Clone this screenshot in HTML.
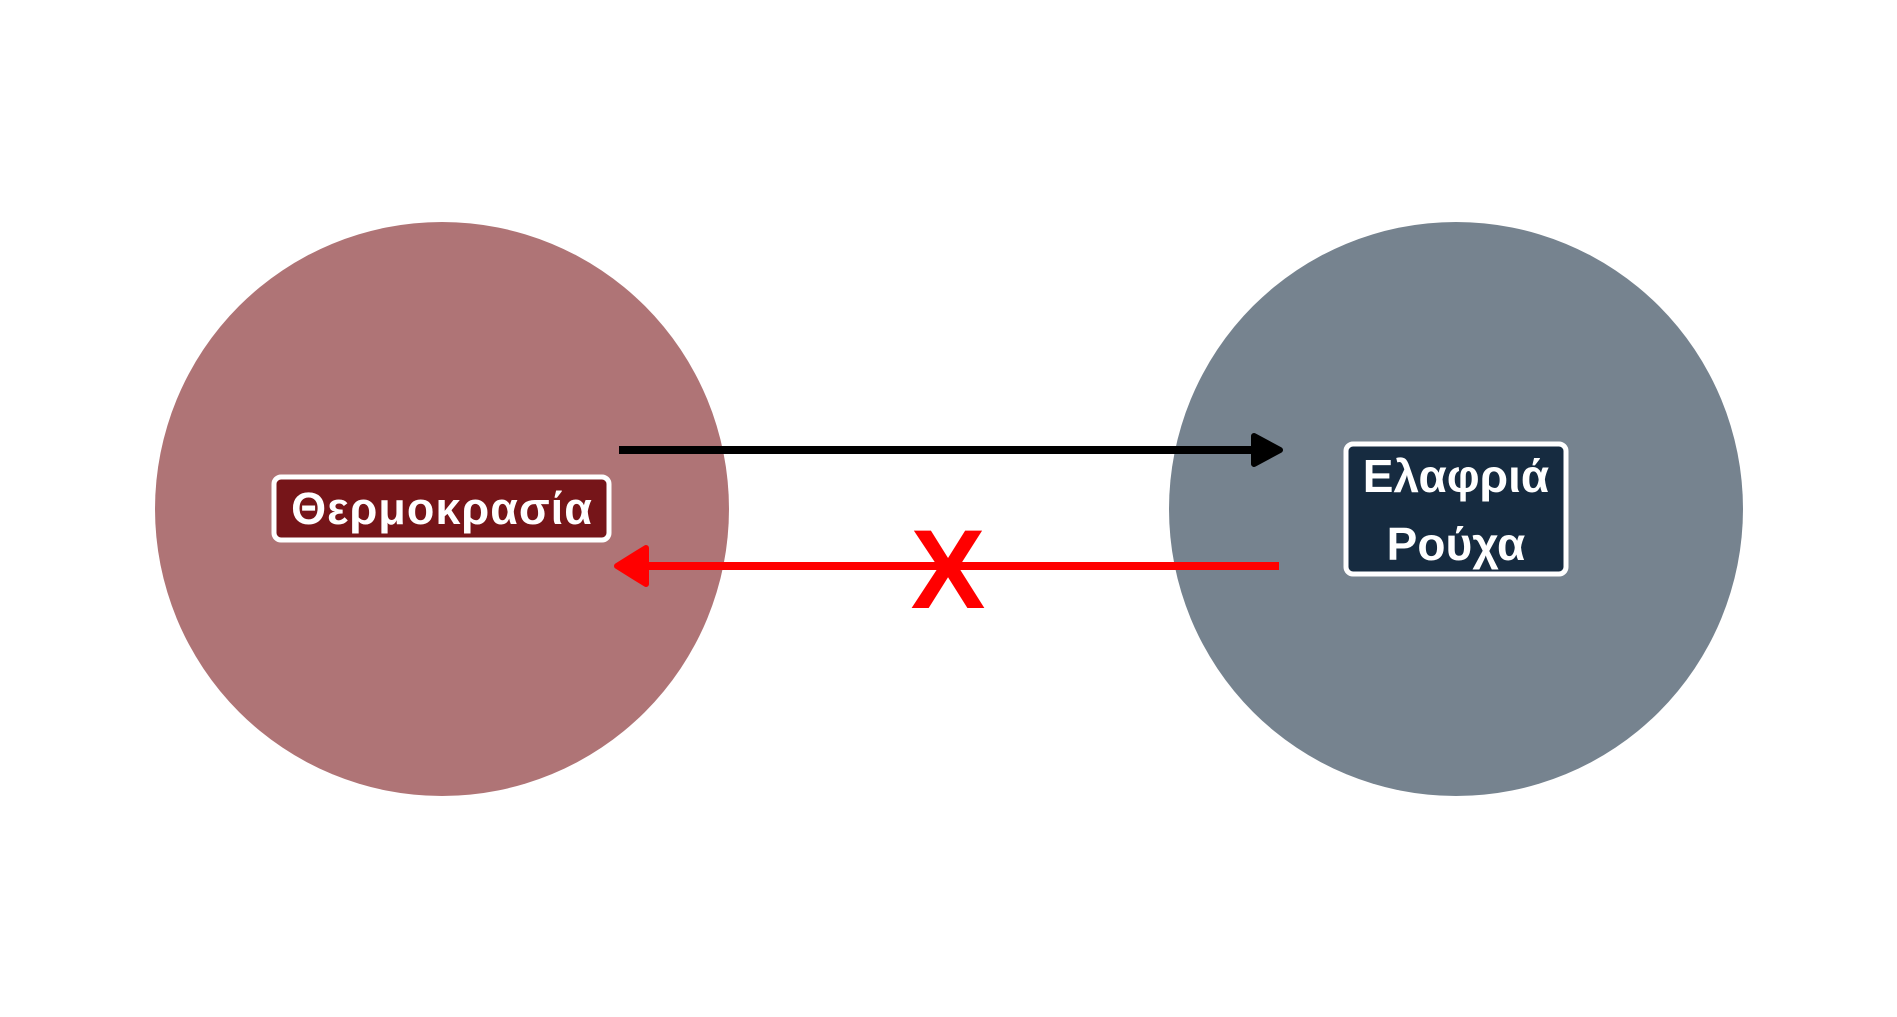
<!DOCTYPE html>
<html><head><meta charset="utf-8"><style>
html,body{margin:0;padding:0;background:#fff;width:1897px;height:1017px;overflow:hidden}
</style></head><body>
<svg width="1897" height="1017" viewBox="0 0 1897 1017" xmlns="http://www.w3.org/2000/svg">
<circle cx="442" cy="509" r="287" fill="#AF7476"/>
<circle cx="1456" cy="509" r="287" fill="#76838F"/>
<line x1="619" y1="450" x2="1260" y2="450" stroke="#000" stroke-width="8"/>
<path d="M1254 436 L1280 450 L1254 464 Z" fill="#000" stroke="#000" stroke-width="6" stroke-linejoin="round"/>
<line x1="640" y1="566" x2="1279" y2="566" stroke="#f00" stroke-width="8"/>
<path d="M646 548 L617 566 L646 584 Z" fill="#f00" stroke="#f00" stroke-width="6" stroke-linejoin="round"/>
<text x="948" y="608" font-family="Liberation Sans, sans-serif" font-weight="bold" font-size="112" fill="#f00" text-anchor="middle">X</text>
<rect x="274" y="477" width="335" height="63" rx="7" fill="#761519" stroke="#fff" stroke-width="5"/>
<text x="442" y="524" font-family="Liberation Sans, DejaVu Sans, sans-serif" font-weight="bold" font-size="45" letter-spacing="1" fill="#fff" text-anchor="middle">Θερμοκρασία</text>
<rect x="1346" y="444" width="220" height="130" rx="7" fill="#162B40" stroke="#fff" stroke-width="5"/>
<text x="1456" y="492" font-family="Liberation Sans, DejaVu Sans, sans-serif" font-weight="bold" font-size="46" fill="#fff" text-anchor="middle">Ελαφριά</text>
<text x="1456" y="560" font-family="Liberation Sans, DejaVu Sans, sans-serif" font-weight="bold" font-size="46" fill="#fff" text-anchor="middle">Ρούχα</text>
</svg>
</body></html>
